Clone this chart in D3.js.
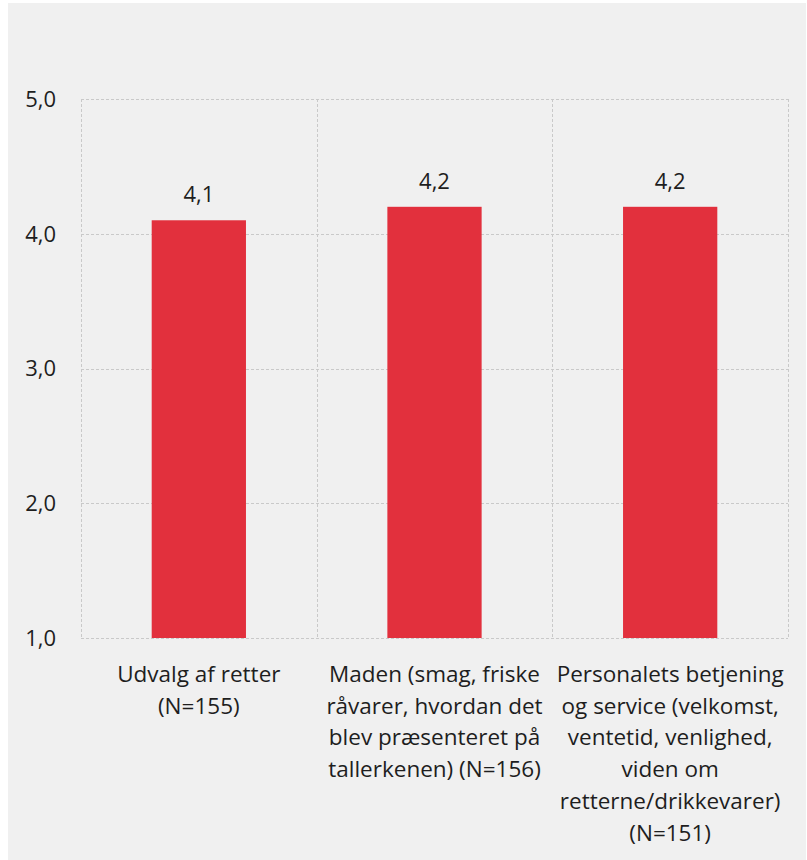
<!DOCTYPE html>
<html>
<head>
<meta charset="utf-8">
<script src="https://cdn.jsdelivr.net/npm/d3@7"></script>
<style>
  html, body { margin: 0; padding: 0; background: #ffffff; }
  svg { display: block; }
  text { font-family: "Open Sans", "Noto Sans", sans-serif; fill: #1e1e1e; }
</style>
</head>
<body>
<svg id="chart" width="807" height="860"></svg>
<script>
const categories = [
  ["Udvalg af retter", "(N=155)"],
  ["Maden (smag, friske", "råvarer, hvordan det", "blev præsenteret på", "tallerkenen) (N=156)"],
  ["Personalets betjening", "og service (velkomst,", "ventetid, venlighed,", "viden om", "retterne/drikkevarer)", "(N=151)"]
];
const values = [4.1, 4.2, 4.2];
const yTicks = [1, 2, 3, 4, 5];
const fmt = v => v.toFixed(1).replace(".", ",");

const svg = d3.select("#chart");
const W = 807, H = 860;
const plot = { left: 81, right: 788, top: 99, bottom: 638 };

svg.append("rect").attr("x", 8).attr("y", 3).attr("width", W - 9).attr("height", H - 3).attr("fill", "#f0f0f0");

const ids = categories.map((c, i) => i);
const x = d3.scaleBand().domain(ids).range([plot.left, plot.right]).padding(0);
const y = d3.scaleLinear().domain([1, 5]).range([plot.bottom, plot.top]);

const grid = svg.append("g").attr("stroke", "#c9c9c9").attr("stroke-width", 1).attr("stroke-dasharray", "3,2").attr("fill", "none");
yTicks.forEach(t => {
  grid.append("line").attr("x1", plot.left).attr("x2", plot.right)
    .attr("y1", Math.round(y(t)) + 0.5).attr("y2", Math.round(y(t)) + 0.5);
});
const vx = ids.map(i => x(i)).concat([plot.right]);
vx.forEach(v => {
  grid.append("line").attr("x1", Math.round(v) + 0.5).attr("x2", Math.round(v) + 0.5)
    .attr("y1", plot.top).attr("y2", plot.bottom);
});

// y axis labels
const yAxis = d3.axisLeft(y).tickValues(yTicks).tickFormat(fmt).tickSize(0).tickPadding(25);
const yg = svg.append("g").attr("transform", `translate(${plot.left},0)`).call(yAxis);
yg.select(".domain").remove();
yg.selectAll("text").style("font-size", "22px").attr("fill", "#1e1e1e").attr("dy", "0.34em")
  .style("font-family", "'Open Sans','Noto Sans',sans-serif");

// bars
const bw = x.bandwidth() * 0.4;
svg.append("g").selectAll("rect").data(values).join("rect")
  .attr("x", (d, i) => x(i) + (x.bandwidth() - bw) / 2)
  .attr("y", d => y(d))
  .attr("width", bw)
  .attr("height", d => y(1) - y(d))
  .attr("fill", "#e2303d");

// value labels
svg.append("g").selectAll("text").data(values).join("text")
  .attr("x", (d, i) => x(i) + x.bandwidth() / 2)
  .attr("y", d => y(d) - 18)
  .attr("text-anchor", "middle")
  .style("font-size", "22px")
  .text(fmt);

// category labels
const cg = svg.append("g");
categories.forEach((lines, i) => {
  const t = cg.append("text")
    .attr("x", x(i) + x.bandwidth() / 2)
    .attr("y", 682)
    .attr("text-anchor", "middle")
    .style("font-size", "22.5px");
  lines.forEach((ln, j) => {
    t.append("tspan").attr("x", x(i) + x.bandwidth() / 2).attr("dy", j === 0 ? 0 : 31.7).text(ln);
  });
});
</script>
</body>
</html>
